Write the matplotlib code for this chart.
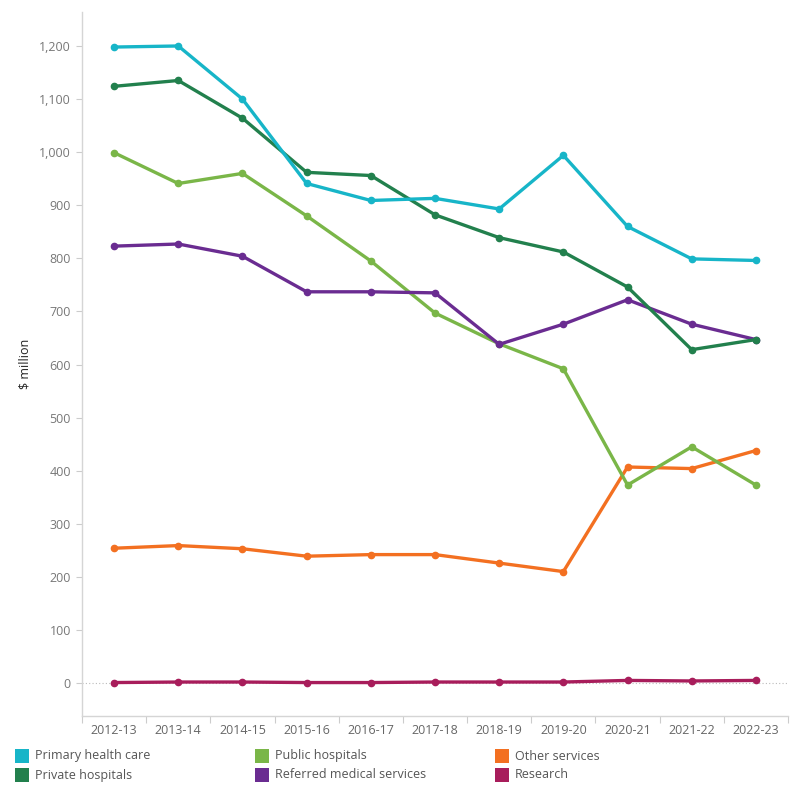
import matplotlib
matplotlib.use("Agg")
import matplotlib.pyplot as plt
from matplotlib.patches import Rectangle
from matplotlib.ticker import FuncFormatter, FixedLocator

plt.rcParams['font.family'] = ['Open Sans', 'DejaVu Sans']

years = ["2012-13", "2013-14", "2014-15", "2015-16", "2016-17", "2017-18",
         "2018-19", "2019-20", "2020-21", "2021-22", "2022-23"]

primary_health_care = [1198, 1200, 1100, 941, 909, 913, 893, 994, 860, 799, 796]
private_hospitals = [1124, 1135, 1064, 962, 956, 882, 839, 812, 746, 628, 647]
public_hospitals = [999, 941, 960, 880, 795, 697, 639, 592, 373, 445, 373]
referred_medical = [823, 827, 804, 737, 737, 735, 638, 676, 722, 676, 647]
other_services = [254, 259, 253, 239, 242, 242, 226, 210, 407, 404, 438]
research = [1, 2, 2, 1, 1, 2, 2, 2, 5, 4, 5]

series = [
    ("Primary health care", primary_health_care, "#17B5C8"),
    ("Private hospitals", private_hospitals, "#22804D"),
    ("Public hospitals", public_hospitals, "#7AB648"),
    ("Referred medical services", referred_medical, "#6A2C91"),
    ("Other services", other_services, "#F37021"),
    ("Research", research, "#A81D5B"),
]
draw_order = ["Other services", "Research", "Public hospitals",
              "Referred medical services", "Private hospitals", "Primary health care"]

fig = plt.figure(figsize=(8, 8), dpi=100)
ax = fig.add_axes([0.1025, 0.105, 0.8825, 0.88])
x = list(range(len(years)))

ax.axhline(0, color="#BBBBBB", lw=0.8, ls=(0, (1, 2)), zorder=1)

lookup = {n: (v, c) for n, v, c in series}
for i, name in enumerate(draw_order):
    vals, col = lookup[name]
    ax.plot(x, vals, color=col, lw=2.4, marker="o", ms=4.5, zorder=3 + i,
            solid_joinstyle="round")

ax.set_xlim(-0.5, len(years) - 0.5)
ax.set_ylim(-62, 1264)
ax.set_xticks(x)
ax.set_xticklabels(years)
ax.xaxis.set_minor_locator(FixedLocator([i - 0.5 for i in range(len(years) + 1)]))
ax.tick_params(axis="x", which="major", length=0, labelsize=9, labelcolor="#666666", pad=6)
ax.tick_params(axis="x", which="minor", length=5, color="#CCCCCC", width=0.8)
ax.set_yticks(range(0, 1201, 100))
ax.yaxis.set_major_formatter(FuncFormatter(lambda v, p: f"{int(v):,}"))
ax.tick_params(axis="y", length=4, color="#CCCCCC", width=0.8, labelsize=9,
               labelcolor="#777777", pad=4)
ax.set_ylabel("$ million", fontsize=9, color="#222222")
ax.yaxis.set_label_coords(-0.072, 0.5)

for s in ["top", "right"]:
    ax.spines[s].set_visible(False)
for s in ["left", "bottom"]:
    ax.spines[s].set_color("#D5D5D5")
    ax.spines[s].set_linewidth(1)

# legend
legend_layout = [
    ("Primary health care", 15, 749), ("Public hospitals", 255, 749), ("Other services", 495, 749),
    ("Private hospitals", 15, 768), ("Referred medical services", 255, 768), ("Research", 495, 768),
]
W, H = 800, 800
for name, px, py in legend_layout:
    col = lookup[name][1]
    fig.add_artist(Rectangle((px / W, 1 - (py + 14) / H), 14 / W, 14 / H,
                             transform=fig.transFigure, color=col, lw=0))
    fig.text((px + 20) / W, 1 - (py + 7) / H, name, fontsize=9, color="#555555",
             va="center", ha="left")

fig.savefig("out.png", dpi=100)
